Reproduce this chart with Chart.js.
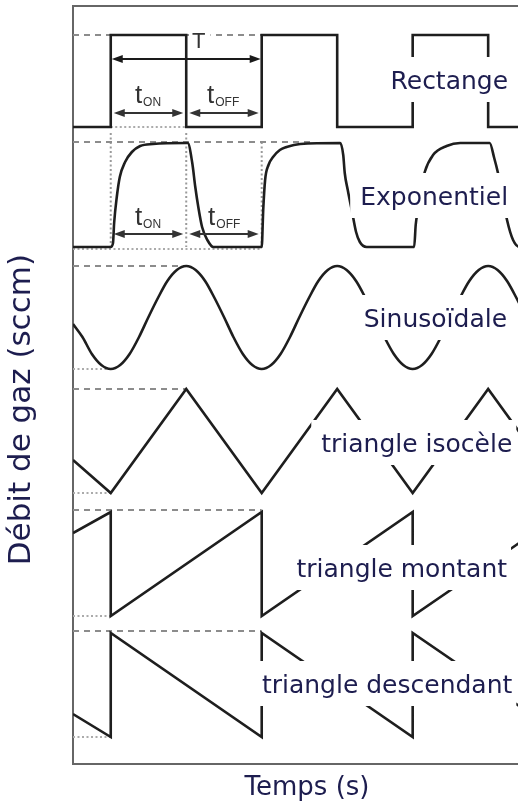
<!DOCTYPE html>
<html><head><meta charset="utf-8">
<script src="https://cdn.jsdelivr.net/npm/chart.js@4.4.1/dist/chart.umd.min.js"></script>
<style>
html,body{margin:0;padding:0;background:#fff;overflow:hidden;width:518px;height:807px}
#wrap{width:545px;height:807px;position:relative}
</style></head>
<body><div id="wrap"><canvas id="c" width="545" height="807"></canvas></div>
<script>
// Time in units of t_ON (t_ON = t_OFF = 1, T = 2); flow in arbitrary stacked units
const X_MIN = -0.5, X_MAX = 5.7, Y_MIN = 0, Y_MAX = 7.58;

const rectT = [-0.5, 0, 0, 1, 1, 2, 2, 3, 3, 4, 4, 5, 5, 5.7];
const rectV = [6.37, 6.37, 7.29, 7.29, 6.37, 6.37, 7.29, 7.29, 6.37, 6.37, 7.29, 7.29, 6.37, 6.37];

const expT = [-0.5, 0, 0.03, 0.045, 0.08, 0.12, 0.19, 0.28, 0.39, 0.56,
  1.0, 1.02, 1.08, 1.12, 1.16, 1.21, 1.28, 1.36,
  2.0, 2.02, 2.045, 2.09, 2.15, 2.24, 2.33, 2.51,
  3.04, 3.08, 3.10, 3.14, 3.20, 3.25, 3.30, 3.39,
  4.02, 4.04, 4.07, 4.11, 4.16, 4.27, 4.45, 4.63,
  5.02, 5.08, 5.13, 5.20, 5.25, 5.33, 5.42, 5.7];
const expV = [5.17, 5.17, 5.21, 5.41, 5.67, 5.87, 6.02, 6.12, 6.18, 6.20,
  6.21, 6.21, 6.01, 5.77, 5.57, 5.37, 5.24, 5.17,
  5.17, 5.54, 5.84, 5.99, 6.07, 6.14, 6.17, 6.20,
  6.21, 6.09, 5.91, 5.74, 5.51, 5.32, 5.22, 5.17,
  5.17, 5.39, 5.54, 5.74, 5.92, 6.09, 6.18, 6.21,
  6.21, 6.06, 5.91, 5.64, 5.44, 5.24, 5.17, 5.17];

const sinT = [-0.5, -0.375, -0.25, -0.125, 0, 0.125, 0.25, 0.375, 0.5, 0.625, 0.75, 0.875,
  1, 1.125, 1.25, 1.375, 1.5, 1.625, 1.75, 1.875, 2, 2.125, 2.25, 2.375, 2.5, 2.625, 2.75, 2.875,
  3, 3.125, 3.25, 3.375, 3.5, 3.625, 3.75, 3.875, 4, 4.125, 4.25, 4.375, 4.5, 4.625, 4.75, 4.875,
  5, 5.125, 5.25, 5.375, 5.5, 5.625, 5.7];
const sinV = [4.40, 4.27, 4.10, 3.99, 3.95, 3.99, 4.10, 4.27, 4.47, 4.66, 4.83, 4.94,
  4.98, 4.94, 4.83, 4.66, 4.47, 4.27, 4.10, 3.99, 3.95, 3.99, 4.10, 4.27, 4.47, 4.66, 4.83, 4.94,
  4.98, 4.94, 4.83, 4.66, 4.47, 4.27, 4.10, 3.99, 3.95, 3.99, 4.10, 4.27, 4.47, 4.66, 4.83, 4.94,
  4.98, 4.94, 4.83, 4.66, 4.47, 4.27, 4.16];

const isoT = [-0.5, 0, 1, 2, 3, 4, 5, 5.7];
const isoV = [3.04, 2.71, 3.75, 2.71, 3.75, 2.71, 3.75, 3.02];

const upT = [-0.5, 0, 0, 2, 2, 4, 4, 5.7];
const upV = [2.31, 2.52, 1.48, 2.52, 1.48, 2.52, 1.48, 2.36];

const downT = [-0.5, 0, 0, 2, 2, 4, 4, 5.7];
const downV = [0.50, 0.27, 1.31, 0.27, 1.31, 0.27, 1.31, 0.43];

// reference levels (dashed = max, dotted = min)
const dashLevels = [7.29, 6.22, 4.98, 3.75, 2.54, 1.33];
const dashEnds   = [2, 2.65, 1, 1, 2, 2];
const dotLevels  = [6.37, 5.15, 3.95, 2.71, 1.48, 0.27];
const dotStarts  = [0, -0.5, -0.5, -0.5, -0.5, -0.5];
const dotEnds    = [1, 2, 0, 0, 0, 0];
const vDotT   = [0, 1, 2];
const vDotTop = [6.31, 6.31, 6.22];
const vDotBot = [5.17, 5.17, 5.17];

const curveNames = ['Rectange', 'Exponentiel', 'Sinusoïdale', 'triangle isocèle', 'triangle montant', 'triangle descendant'];
const yTitle = 'Débit de gaz (sccm)';
const xTitle = 'Temps (s)';

const pts = (T, V) => T.map((t, i) => ({x: t, y: V[i]}));
const WAVE = '#1e1e1e';
const datasets = [];
[[rectT, rectV, false], [expT, expV, true], [sinT, sinV, true], [isoT, isoV, false], [upT, upV, false], [downT, downV, false]]
  .forEach(([T, V, smooth]) => datasets.push({
    data: pts(T, V), borderColor: WAVE, borderWidth: 2.6, pointRadius: 0,
    cubicInterpolationMode: smooth ? 'monotone' : 'default', tension: 0,
    borderJoinStyle: 'miter', fill: false
  }));
dashLevels.forEach((v, i) => datasets.push({
  data: [{x: X_MIN, y: v}, {x: dashEnds[i], y: v}], borderColor: '#8c8c8c', borderWidth: 2,
  borderDash: [6, 5], pointRadius: 0, fill: false
}));
dotLevels.forEach((v, i) => datasets.push({
  data: [{x: dotStarts[i], y: v}, {x: dotEnds[i], y: v}], borderColor: '#ababab', borderWidth: 2,
  borderDash: [2, 2.5], pointRadius: 0, fill: false
}));
vDotT.forEach((t, i) => datasets.push({
  data: [{x: t, y: vDotTop[i]}, {x: t, y: vDotBot[i]}], borderColor: '#9a9a9a', borderWidth: 2,
  borderDash: [2, 2.5], pointRadius: 0, fill: false
}));

// annotation placement (data coordinates)
const ARROWS = [
  {t1: 0, t2: 2, v: 7.05, color: '#1a1a1a', inset: 1},
  {t1: 0, t2: 1, v: 6.51, color: '#333', inset: 3},
  {t1: 1, t2: 2, v: 6.51, color: '#333', inset: 3},
  {t1: 0, t2: 1, v: 5.30, color: '#333', inset: 3},
  {t1: 1, t2: 2, v: 5.30, color: '#333', inset: 3}
];
const TIMES = [
  {main: 't', sub: 'ON', t: 0.32, v: 6.61},
  {main: 't', sub: 'OFF', t: 1.276, v: 6.61},
  {main: 't', sub: 'ON', t: 0.32, v: 5.39},
  {main: 't', sub: 'OFF', t: 1.29, v: 5.39}
];
const PERIOD_LABEL = {text: 'T', t: 1.077, v: 7.16};
const NAME_POS = [[5.264, 6.75], [5.264, 5.59], [5.25, 4.37], [5.32, 3.12], [5.25, 1.87], [5.32, 0.71]];

const notes = {
  id: 'notes',
  afterDatasetsDraw(chart) {
    const {ctx} = chart, xs = chart.scales.x, ys = chart.scales.y;
    ctx.save();
    const head = (px, py, dir) => {
      ctx.beginPath(); ctx.moveTo(px, py); ctx.lineTo(px + dir * 11, py - 4); ctx.lineTo(px + dir * 11, py + 4); ctx.closePath(); ctx.fill();
    };
    ARROWS.forEach(a => {
      const x1 = xs.getPixelForValue(a.t1) + a.inset, x2 = xs.getPixelForValue(a.t2) - a.inset, yy = ys.getPixelForValue(a.v);
      ctx.strokeStyle = a.color; ctx.fillStyle = a.color; ctx.lineWidth = 2;
      ctx.beginPath(); ctx.moveTo(x1 + 6, yy); ctx.lineTo(x2 - 6, yy); ctx.stroke();
      head(x1, yy, 1); head(x2, yy, -1);
    });
    // period label
    const px = xs.getPixelForValue(PERIOD_LABEL.t), py = ys.getPixelForValue(PERIOD_LABEL.v);
    ctx.font = '22px "Liberation Sans", Arial, sans-serif';
    ctx.textAlign = 'left'; ctx.textBaseline = 'alphabetic';
    const tw = ctx.measureText(PERIOD_LABEL.text).width;
    ctx.fillStyle = '#fff'; ctx.fillRect(px - 3, py - 18, tw + 8, 21);
    ctx.fillStyle = '#333'; ctx.fillText(PERIOD_LABEL.text, px, py);
    // t_ON / t_OFF
    TIMES.forEach(s => {
      const sx = xs.getPixelForValue(s.t), sy = ys.getPixelForValue(s.v);
      ctx.font = '26px "Liberation Sans", Arial, sans-serif';
      ctx.fillStyle = '#333';
      ctx.fillText(s.main, sx, sy);
      const w = ctx.measureText(s.main).width;
      ctx.font = '12px "Liberation Sans", Arial, sans-serif';
      ctx.fillText(s.sub, sx + w + 1, sy + 3);
    });
    // curve names
    ctx.font = '25px "DejaVu Sans", Verdana, sans-serif';
    ctx.textAlign = 'right';
    curveNames.forEach((name, i) => {
      const rx = xs.getPixelForValue(NAME_POS[i][0]), by = ys.getPixelForValue(NAME_POS[i][1]);
      const w = ctx.measureText(name).width;
      ctx.fillStyle = '#fff';
      ctx.fillRect(rx - w - 10, by - 32, w + 14, 45);
      ctx.fillStyle = '#1d1d4f';
      ctx.fillText(name, rx, by);
    });
    ctx.restore();
  }
};

const frame = {display: true, color: '#666', width: 2};
const NB = '\u00a0';
new Chart(document.getElementById('c'), {
  type: 'line',
  data: {datasets},
  plugins: [notes],
  options: {
    responsive: false, animation: false, devicePixelRatio: 1,
    layout: {padding: {left: 0, top: 6, right: 4, bottom: 0}},
    plugins: {legend: {display: false}, tooltip: {enabled: false}},
    scales: {
      x: {
        type: 'linear', position: 'bottom', min: X_MIN, max: X_MAX,
        ticks: {display: false}, grid: {display: false, drawTicks: false}, border: frame,
        title: {display: true, text: xTitle, color: '#1d1d4f',
          font: {family: '"DejaVu Sans", Verdana, sans-serif', size: 26, lineHeight: 1.2},
          padding: {top: 8.4, bottom: 3.4}}
      },
      xTop: {
        type: 'linear', position: 'top', min: X_MIN, max: X_MAX,
        ticks: {display: false}, grid: {display: false, drawTicks: false}, border: frame
      },
      y: {
        type: 'linear', position: 'left', min: Y_MIN, max: Y_MAX,
        ticks: {display: false}, grid: {display: false, drawTicks: false}, border: frame,
        title: {display: true, text: yTitle + NB.repeat(5), color: '#1d1d4f',
          font: {family: '"DejaVu Sans", Verdana, sans-serif', size: 31, lineHeight: 1.2},
          padding: {top: 3.4, bottom: 32.4}}
      }
    }
  }
});
</script>
</body></html>
